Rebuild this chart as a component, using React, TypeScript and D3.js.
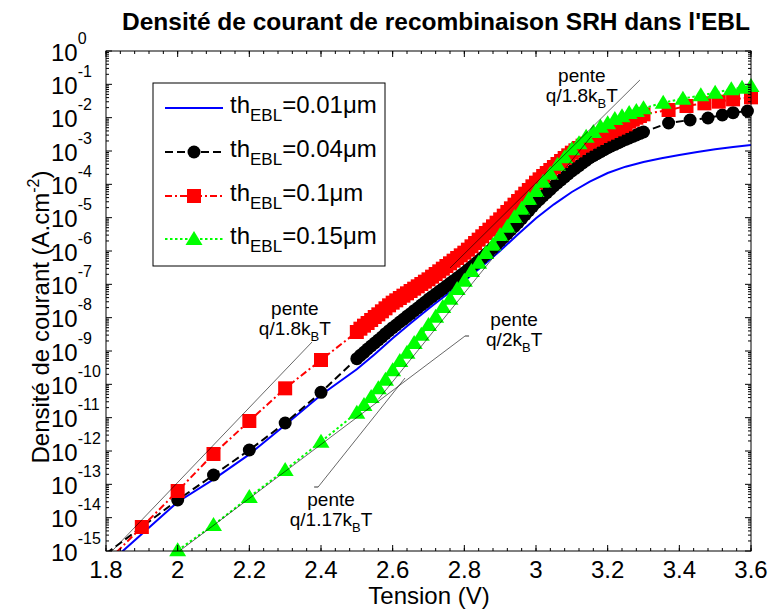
import React from "react";
import * as d3 from "d3";

const FONT = "'Liberation Sans', Arial, Helvetica, sans-serif";

// ---------- axes ----------
const xTickValues = [1.8, 2.0, 2.2, 2.4, 2.6, 2.8, 3.0, 3.2, 3.4, 3.6];
const xTickLabels = ["1.8", "2", "2.2", "2.4", "2.6", "2.8", "3", "3.2", "3.4", "3.6"];
const yDecadeExponents = [0, -1, -2, -3, -4, -5, -6, -7, -8, -9, -10, -11, -12, -13, -14, -15];
const yTickLabels = ["0", "-1", "-2", "-3", "-4", "-5", "-6", "-7", "-8", "-9", "-10", "-11", "-12", "-13", "-14", "-15"];

// ---------- data (log10 of current density, A.cm^-2) ----------
const vLow = [1.8, 1.9, 2.0, 2.1, 2.2, 2.3, 2.4, 2.5];
const vFine = [
  2.51, 2.52, 2.53, 2.54, 2.55, 2.56, 2.57, 2.58, 2.59, 2.6,
  2.61, 2.62, 2.63, 2.64, 2.65, 2.66, 2.67, 2.68, 2.69, 2.7,
  2.71, 2.72, 2.73, 2.74, 2.75, 2.76, 2.77, 2.78, 2.79, 2.8,
  2.81, 2.82, 2.83, 2.84, 2.85, 2.86, 2.87, 2.88, 2.89, 2.9,
  2.91, 2.92, 2.93, 2.94, 2.95, 2.96, 2.97, 2.98, 2.99, 3.0,
  3.01, 3.02, 3.03, 3.04, 3.05, 3.06, 3.07, 3.08, 3.09, 3.1,
  3.11, 3.12, 3.13, 3.14, 3.15, 3.16, 3.17, 3.18, 3.19, 3.2,
  3.21, 3.22, 3.23, 3.24, 3.25, 3.26, 3.27, 3.28, 3.29, 3.3,
];
const vMed = [
  2.52, 2.54, 2.56, 2.58, 2.6, 2.62, 2.64, 2.66, 2.68, 2.7,
  2.72, 2.74, 2.76, 2.78, 2.8, 2.82, 2.84, 2.86, 2.88, 2.9,
  2.92, 2.94, 2.96, 2.98, 3.0, 3.02, 3.04, 3.06, 3.08, 3.1,
  3.12, 3.14, 3.16, 3.18, 3.2, 3.22, 3.24, 3.26, 3.28, 3.3,
];

// th = 0.01 µm (blue, line only)
const blueV = [
  1.8, 1.9, 2.0, 2.1, 2.2, 2.3, 2.4, 2.5, 2.55, 2.6, 2.65, 2.7, 2.75, 2.8, 2.85, 2.9,
  2.95, 3.0, 3.05, 3.1, 3.15, 3.2, 3.25, 3.3, 3.35, 3.4, 3.45, 3.5, 3.55, 3.6,
];
const blueLog = [
  -15.45, -14.49, -13.53, -12.85, -12.1, -11.22, -10.32, -9.55, -9.1, -8.62, -8.17, -7.73, -7.31, -6.9, -6.46, -5.99,
  -5.5, -5.02, -4.6, -4.23, -3.92, -3.66, -3.47, -3.33, -3.22, -3.12, -3.03, -2.95, -2.88, -2.82,
];

// th = 0.04 µm (black)
const blackLowLog = [-15.08, -14.28, -13.47, -12.72, -11.97, -11.16, -10.24, -9.23];
const blackFineLog = [
  -9.13, -9.04, -8.94, -8.85, -8.76, -8.67, -8.58, -8.48, -8.39, -8.3,
  -8.22, -8.13, -8.05, -7.96, -7.88, -7.79, -7.71, -7.62, -7.54, -7.45,
  -7.37, -7.29, -7.21, -7.13, -7.05, -6.97, -6.89, -6.81, -6.73, -6.65,
  -6.56, -6.47, -6.38, -6.29, -6.2, -6.1, -6.0, -5.9, -5.8, -5.7,
  -5.59, -5.48, -5.37, -5.26, -5.15, -5.03, -4.91, -4.79, -4.67, -4.55,
  -4.45, -4.35, -4.25, -4.15, -4.05, -3.96, -3.87, -3.78, -3.69, -3.6,
  -3.52, -3.44, -3.36, -3.28, -3.2, -3.14, -3.08, -3.02, -2.96, -2.9,
  -2.85, -2.8, -2.75, -2.7, -2.65, -2.61, -2.56, -2.52, -2.47, -2.43,
];
const blackTailV = [3.37, 3.43, 3.48, 3.52, 3.55, 3.59];
const blackTailLog = [-2.16, -2.07, -2.01, -1.92, -1.85, -1.8];

// th = 0.1 µm (red)
const redLowLog = [-15.35, -14.28, -13.2, -12.09, -11.1, -10.12, -9.27, -8.43];
const redFineLog = [
  -8.33, -8.24, -8.16, -8.07, -7.98, -7.9, -7.81, -7.72, -7.63, -7.55,
  -7.48, -7.41, -7.34, -7.27, -7.2, -7.13, -7.06, -6.99, -6.92, -6.85,
  -6.77, -6.69, -6.61, -6.53, -6.45, -6.37, -6.29, -6.21, -6.13, -6.05,
  -5.96, -5.86, -5.76, -5.66, -5.56, -5.46, -5.36, -5.26, -5.15, -5.05,
  -4.94, -4.83, -4.72, -4.61, -4.5, -4.39, -4.28, -4.17, -4.06, -3.95,
  -3.85, -3.75, -3.66, -3.57, -3.48, -3.39, -3.3, -3.21, -3.13, -3.05,
  -2.98, -2.91, -2.84, -2.78, -2.72, -2.66, -2.61, -2.55, -2.5, -2.45,
  -2.4, -2.35, -2.3, -2.25, -2.2, -2.12, -2.06, -2.0, -1.95, -1.9,
];
const redTailV = [3.37, 3.42, 3.47, 3.51, 3.55, 3.6];
const redTailLog = [-1.77, -1.65, -1.57, -1.52, -1.45, -1.39];

// th = 0.15 µm (green)
const greenLowV = [2.0, 2.1, 2.2, 2.3, 2.4, 2.5];
const greenLowLog = [-14.98, -14.22, -13.38, -12.57, -11.72, -10.85];
const greenMedLog = [
  -10.62, -10.38, -10.12, -9.86, -9.58, -9.3, -9.05, -8.76, -8.51, -8.22,
  -7.97, -7.68, -7.43, -7.14, -6.89, -6.6, -6.35, -6.06, -5.81, -5.52,
  -5.27, -4.98, -4.73, -4.44, -4.2, -3.92, -3.68, -3.41, -3.19, -2.95,
  -2.77, -2.57, -2.43, -2.27, -2.17, -2.04, -1.96, -1.86, -1.8, -1.72,
];
const greenTailV = [3.355, 3.41, 3.46, 3.5, 3.545, 3.575, 3.6];
const greenTailLog = [-1.55, -1.43, -1.33, -1.25, -1.15, -1.1, -1.05];

const legendValues = ["0.01", "0.04", "0.1", "0.15"];

// slope guide lines [V, log10 J] pairs
const guideLines = [
  [[1.817, -15], [2.375, -8.73]],
  [[2.005, -15], [2.802, -8.55]],
  [[2.56, -10.45], [3.155, -2.55]],
  [[2.76, -6.51], [3.29, -0.87]],
  [[2.392, -13.08], [2.6345, -9.81]],
];
const guideEndTicks = [[2.802, -8.55], [2.392, -13.08]];
const annotations = [
  { v: 3.128, lj: -0.93, n: "1.8" },
  { v: 2.327, lj: -7.92, n: "1.8" },
  { v: 2.939, lj: -8.25, n: "2" },
  { v: 2.428, lj: -13.65, n: "1.17" },
];

// ---------- layout ----------
const W = 769;
const H = 610;
const X0 = 106, X1 = 751, Y0 = 551, Y1 = 51;

const x = d3.scaleLinear().domain([1.8, 3.6]).range([X0, X1]);
const y = d3.scaleLog().domain([1e-15, 1]).range([Y0, Y1]);

type Pt = [number, number];
const toPts = (vs: number[], ls: number[]): Pt[] => vs.map((v, i) => [v, Math.pow(10, ls[i])]);

const seriesList = [
  { color: "#0000FF", dash: "", marker: "none", pts: toPts(blueV, blueLog) },
  {
    color: "#000000", dash: "8,4", marker: "circle",
    pts: [...toPts(vLow, blackLowLog), ...toPts(vFine, blackFineLog), ...toPts(blackTailV, blackTailLog)],
  },
  {
    color: "#FF0000", dash: "7,3,2,3", marker: "square",
    pts: [...toPts(vLow, redLowLog), ...toPts(vFine, redFineLog), ...toPts(redTailV, redTailLog)],
  },
  {
    color: "#00FF00", dash: "2.5,2.5", marker: "triangle",
    pts: [...toPts(greenLowV, greenLowLog), ...toPts(vMed, greenMedLog), ...toPts(greenTailV, greenTailLog)],
  },
];

const line = d3.line<Pt>().x((d) => x(d[0])).y((d) => y(d[1]));

function Marker({ kind, cx, cy, color }: { kind: string; cx: number; cy: number; color: string }) {
  if (kind === "circle") return <circle cx={cx} cy={cy} r={6.5} fill={color} />;
  if (kind === "square") return <rect x={cx - 7} y={cy - 7} width={14} height={14} fill={color} />;
  if (kind === "triangle")
    return <path d={`M${cx},${cy - 8}L${cx + 8.5},${cy + 6}L${cx - 8.5},${cy + 6}Z`} fill={color} />;
  return null;
}

export default function App() {
  const xMinor = d3.range(1.8, 3.6001, 0.04);
  const yMinor: number[] = [];
  for (let k = -15; k < 0; k++) for (let m = 2; m <= 9; m++) yMinor.push(m * Math.pow(10, k));

  const legendRows = [108, 152, 196, 239];

  return (
    <svg width={W} height={H} style={{ position: "absolute", left: 0, top: 0, background: "#fff" }} fontFamily={FONT}>
      <rect x={0} y={0} width={W} height={H} fill="#fff" />
      <defs>
        <clipPath id="plotclip">
          <rect x={X0} y={Y1} width={X1 - X0} height={Y0 - Y1} />
        </clipPath>
      </defs>

      {/* title */}
      <text x={436} y={30} textAnchor="middle" fontSize={24.5} fontWeight="bold">
        Densité de courant de recombinaison SRH dans l'EBL
      </text>

      {/* series */}
      {seriesList.map((s, i) => (
        <g key={i}>
          <path
            d={line(s.pts) || ""}
            fill="none"
            stroke={s.color}
            strokeWidth={2}
            strokeDasharray={s.dash || undefined}
            clipPath="url(#plotclip)"
          />
          {s.marker !== "none" &&
            s.pts
              .filter((p) => p[1] >= 0.95e-15 && p[1] <= 1 && p[0] >= 1.8 && p[0] <= 3.6)
              .map((p, j) => <Marker key={j} kind={s.marker} cx={x(p[0])} cy={y(p[1])} color={s.color} />)}
        </g>
      ))}

      {/* guide lines */}
      {guideLines.map((g, i) => (
        <line
          key={i}
          x1={x(g[0][0])}
          y1={y(Math.pow(10, g[0][1]))}
          x2={x(g[1][0])}
          y2={y(Math.pow(10, g[1][1]))}
          stroke="#000"
          strokeWidth={0.6}
          clipPath="url(#plotclip)"
        />
      ))}
      {guideEndTicks.map((t, i) => (
        <line
          key={i}
          x1={x(t[0]) + (i === 0 ? 0 : -4)}
          x2={x(t[0]) + (i === 0 ? 4 : 0)}
          y1={y(Math.pow(10, t[1]))}
          y2={y(Math.pow(10, t[1]))}
          stroke="#000"
          strokeWidth={0.8}
        />
      ))}

      {/* annotations */}
      {annotations.map((a, i) => {
        const cx = x(a.v);
        const by = y(Math.pow(10, a.lj));
        return (
          <g key={i} fontSize={19} textAnchor="middle">
            <text x={cx} y={by}>pente</text>
            <text x={cx} y={by + 20}>
              <tspan>{`q/${a.n}k`}</tspan>
              <tspan fontSize={13} dy={6}>B</tspan>
              <tspan dy={-6}>T</tspan>
            </text>
          </g>
        );
      })}

      {/* axes box */}
      <rect x={X0} y={Y1} width={X1 - X0} height={Y0 - Y1} fill="none" stroke="#000" strokeWidth={1} />

      {/* x ticks */}
      {xMinor.map((v, i) => (
        <g key={"xm" + i}>
          <line x1={x(v)} x2={x(v)} y1={Y0} y2={Y0 - 3} stroke="#000" />
          <line x1={x(v)} x2={x(v)} y1={Y1} y2={Y1 + 3} stroke="#000" />
        </g>
      ))}
      {xTickValues.map((v, i) => (
        <g key={"xt" + i}>
          <line x1={x(v)} x2={x(v)} y1={Y0} y2={Y0 - 6} stroke="#000" />
          <line x1={x(v)} x2={x(v)} y1={Y1} y2={Y1 + 6} stroke="#000" />
          <text x={x(v)} y={578} textAnchor="middle" fontSize={24}>
            {xTickLabels[i]}
          </text>
        </g>
      ))}

      {/* y ticks */}
      {yMinor.map((v, i) => (
        <g key={"ym" + i}>
          <line x1={X0} x2={X0 + 3} y1={y(v)} y2={y(v)} stroke="#000" />
          <line x1={X1} x2={X1 - 3} y1={y(v)} y2={y(v)} stroke="#000" />
        </g>
      ))}
      {yDecadeExponents.map((e, i) => {
        const yy = y(Math.pow(10, e));
        return (
          <g key={"yt" + i}>
            <line x1={X0} x2={X0 + 6} y1={yy} y2={yy} stroke="#000" />
            <line x1={X1} x2={X1 - 6} y1={yy} y2={yy} stroke="#000" />
            <text x={51} y={yy + 9.5} fontSize={24}>
              <tspan>10</tspan>
              <tspan fontSize={16} dy={-17}>
                {yTickLabels[i]}
              </tspan>
            </text>
          </g>
        );
      })}

      {/* axis labels */}
      <text x={429} y={604} textAnchor="middle" fontSize={24}>
        Tension (V)
      </text>
      <text transform={`translate(49,317) rotate(-90)`} textAnchor="middle" fontSize={24}>
        <tspan>Densité de courant (A.cm</tspan>
        <tspan fontSize={16} dy={-10}>-2</tspan>
        <tspan dy={10}>)</tspan>
      </text>

      {/* legend */}
      <rect x={153} y={83} width={232} height={183} fill="#fff" stroke="#000" strokeWidth={1} />
      {seriesList.map((s, i) => {
        const ly = legendRows[i];
        return (
          <g key={"lg" + i}>
            <line x1={165} x2={223} y1={ly} y2={ly} stroke={s.color} strokeWidth={2} strokeDasharray={s.dash || undefined} />
            <Marker kind={s.marker} cx={194} cy={ly} color={s.color} />
            <text x={230} y={ly + 5} fontSize={24}>
              <tspan>th</tspan>
              <tspan fontSize={17} dy={8}>EBL</tspan>
              <tspan dy={-8}>{`=${legendValues[i]}\u03bcm`}</tspan>
            </text>
          </g>
        );
      })}
    </svg>
  );
}
